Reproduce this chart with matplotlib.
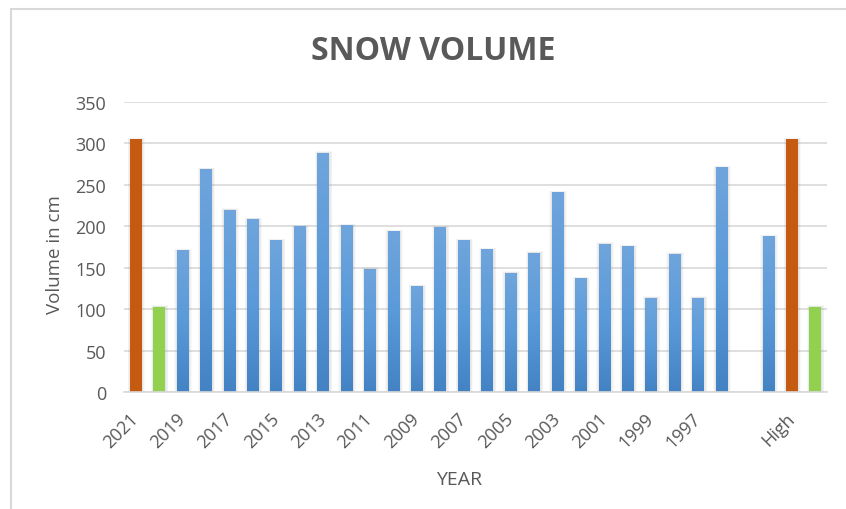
import numpy as np
import matplotlib.pyplot as plt
from matplotlib.patches import Rectangle

plt.rcParams['font.family'] = ['Open Sans', 'DejaVu Sans']

# snow volume per season plus summary columns
categories = ['2021', '2020', '2019', '2018', '2017', '2016', '2015', '2014', '2013',
              '2012', '2011', '2010', '2009', '2008', '2007', '2006', '2005', '2004',
              '2003', '2002', '2001', '2000', '1999', '1998', '1997', '1996',
              '', 'Average', 'High', 'Low']
volumes = [305, 103, 171, 269, 220, 209, 183, 200, 289, 201, 149, 194, 128, 199,
           183, 172, 144, 168, 241, 137, 179, 176, 114, 167, 114, 271,
           None, 188, 305, 103]
highest = ['2021', 'High']
lowest = ['2020', 'Low']

TEXT = '#595959'
GRID = '#d9d9d9'
ORANGE = '#c55a11'
GREEN = '#92d050'

fig = plt.figure(figsize=(8.46, 5.10), dpi=100)
ax = fig.add_axes([124 / 846, 1 - 393 / 510, (827 - 124) / 846, (393 - 103) / 510])

# blue gradient, light at the top and darker near the base
blue_cmap = plt.matplotlib.colors.LinearSegmentedColormap.from_list(
    'blue_grad', ['#4383c4', '#5a9ad9', '#6fa5dc'])
grad = np.linspace(0, 1, 256).reshape(-1, 1)

width = 0.5
for i, (cat, v) in enumerate(zip(categories, volumes)):
    if v is None:
        continue
    # soft drop shadow
    for k in range(1, 5):
        ax.bar(i + 0.02, v + 0.4 * k, width=width + 0.06 * k, color='#7f7f7f',
               alpha=0.05, linewidth=0, zorder=2)
    if cat in highest:
        ax.bar(i, v, width=width, color=ORANGE, linewidth=0, zorder=3)
    elif cat in lowest:
        ax.bar(i, v, width=width, color=GREEN, linewidth=0, zorder=3)
    else:
        bar = ax.bar(i, v, width=width, color='#5a9ad9', linewidth=0, zorder=3)[0]
        img = ax.imshow(grad, cmap=blue_cmap, origin='lower', aspect='auto',
                        extent=(i - width / 2, i + width / 2, 0, v), zorder=4)
        img.set_clip_path(bar)

ax.set_xlim(-0.5, len(categories) - 0.5)
ax.set_ylim(0, 350)
ax.set_yticks(np.arange(0, 351, 50))
ax.set_xticks(range(0, len(categories), 2))
ax.set_xticklabels(categories[::2], rotation=45, ha='right', va='center',
                   rotation_mode='anchor')
ax.tick_params(axis='x', length=0, pad=17, labelsize=13, labelcolor=TEXT)
ax.tick_params(axis='y', length=0, pad=13, labelsize=13, labelcolor=TEXT)

ax.yaxis.grid(True, color=GRID, linewidth=1.2, zorder=0)
ax.set_axisbelow(True)
for side in ['top', 'right', 'left']:
    ax.spines[side].set_visible(False)
ax.spines['bottom'].set_color(GRID)
ax.spines['bottom'].set_linewidth(1.2)
ax.spines['bottom'].set_zorder(5)

fig.text(433 / 846, 1 - 52 / 510, 'SNOW VOLUME', ha='center', va='center',
         fontsize=23, fontweight='bold', color=TEXT)
fig.text(55 / 846, 1 - 255 / 510, 'Volume in cm', ha='center', va='center',
         rotation=90, fontsize=13.5, color=TEXT)
fig.text(459 / 846, 1 - 480 / 510, 'YEAR', ha='center', va='center',
         fontsize=14, color=TEXT)

# chart frame
fig.patches.append(Rectangle((11 / 846, -0.5), 2, 0.5 + 1 - 10 / 510,
                             transform=fig.transFigure, fill=False,
                             edgecolor=GRID, linewidth=1.5))

fig.savefig('out.png', dpi=100, facecolor='white')
